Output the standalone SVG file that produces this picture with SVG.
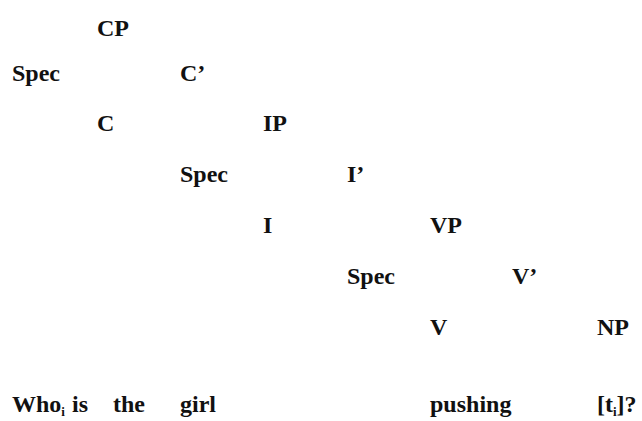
<svg xmlns="http://www.w3.org/2000/svg" width="642" height="421" viewBox="0 0 642 421">
<style>
text{font-family:"Liberation Serif","Times New Roman",serif;font-weight:bold;font-size:24px;fill:#111}
.sub{font-size:13px}
</style>
<rect width="642" height="421" fill="#fff"/>
<g id="connectors"/>
<g id="CP"><text x="97" y="36">CP</text></g>
<g id="SpecC"><text x="12" y="81">Spec</text></g>
<g id="Cbar"><text x="180" y="81">C’</text></g>
<g id="C"><text x="97" y="131">C</text></g>
<g id="IP"><text x="263" y="131">IP</text></g>
<g id="SpecI"><text x="180" y="182">Spec</text></g>
<g id="Ibar"><text x="347" y="182">I’</text></g>
<g id="I"><text x="263" y="233">I</text></g>
<g id="VP"><text x="430" y="233">VP</text></g>
<g id="SpecV"><text x="347" y="284">Spec</text></g>
<g id="Vbar"><text x="512" y="284">V’</text></g>
<g id="V"><text x="430" y="335">V</text></g>
<g id="NP"><text x="597" y="335">NP</text></g>
<g id="sentence">
<text x="12" y="412">Who<tspan class="sub" dy="4">i</tspan></text>
<text x="72" y="412">is</text>
<text x="113" y="412">the</text>
<text x="180" y="412">girl</text>
<text x="430" y="412">pushing</text>
<text x="597" y="412">[t<tspan class="sub" dy="4">i</tspan><tspan dy="-4">]?</tspan></text>
</g>
</svg>
